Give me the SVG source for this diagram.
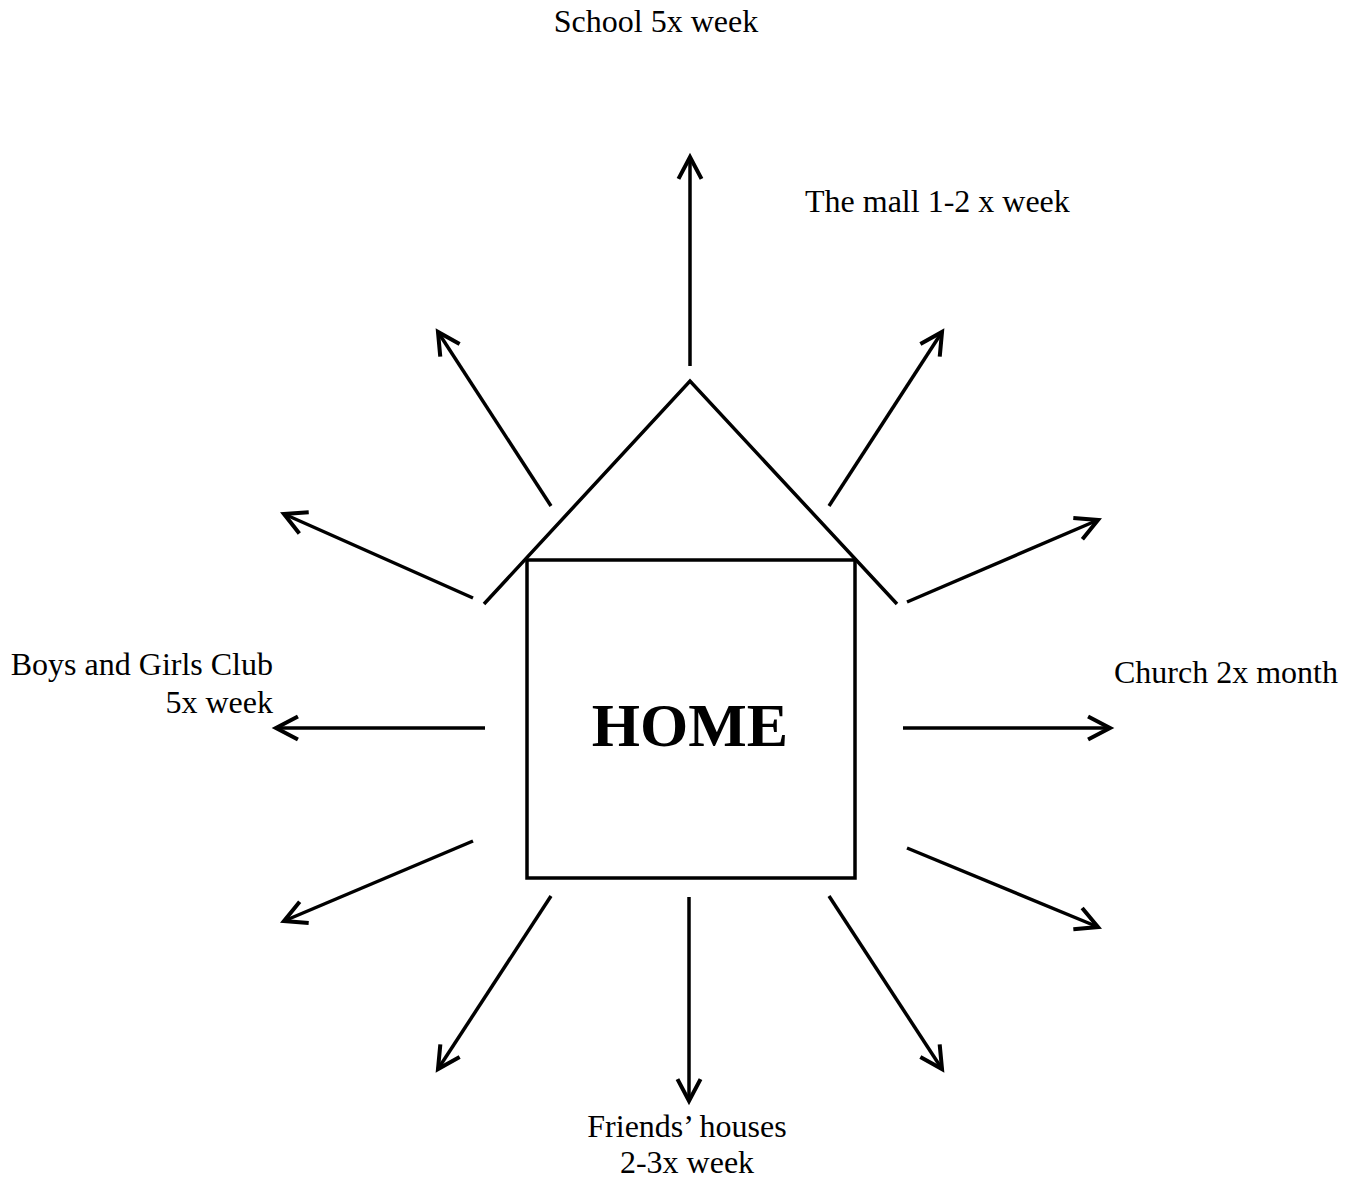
<svg xmlns="http://www.w3.org/2000/svg" width="1354" height="1181" viewBox="0 0 1354 1181">
<style>
.ln{stroke:#000;stroke-width:3.5;fill:none}
.t{font-family:"Liberation Serif","Times New Roman",serif;font-size:32px;fill:#000}
.h{font-family:"Liberation Serif","Times New Roman",serif;font-size:62px;font-weight:bold;fill:#000}
</style>
<defs>
<marker id="ah" markerUnits="userSpaceOnUse" markerWidth="30" markerHeight="30" viewBox="-22 -12 26 24" refX="0" refY="0" orient="auto">
<path d="M-19,-10 L0,0 L-19,10" fill="none" stroke="#000" stroke-width="3.5" stroke-linejoin="miter"/>
</marker>
</defs>
<rect width="1354" height="1181" fill="#fff"/>
<g id="home">
<polyline class="ln" points="484,604 690,381 897,604"/>
<rect class="ln" x="527" y="560" width="328" height="318"/>
<text class="h" x="690" y="746" text-anchor="middle">HOME</text>
</g>
<g id="connectors">
<line class="ln" x1="690" y1="366" x2="690" y2="157" marker-end="url(#ah)"/>
<line class="ln" x1="551" y1="506" x2="438" y2="332" marker-end="url(#ah)"/>
<line class="ln" x1="829" y1="506" x2="942" y2="332" marker-end="url(#ah)"/>
<line class="ln" x1="473" y1="598" x2="284" y2="514" marker-end="url(#ah)"/>
<line class="ln" x1="907" y1="602" x2="1098" y2="520" marker-end="url(#ah)"/>
<line class="ln" x1="485" y1="728" x2="276" y2="728" marker-end="url(#ah)"/>
<line class="ln" x1="903" y1="728" x2="1110" y2="728" marker-end="url(#ah)"/>
<line class="ln" x1="473" y1="841" x2="284" y2="921" marker-end="url(#ah)"/>
<line class="ln" x1="907" y1="848" x2="1098" y2="927" marker-end="url(#ah)"/>
<line class="ln" x1="551" y1="896" x2="438" y2="1069" marker-end="url(#ah)"/>
<line class="ln" x1="689" y1="897" x2="689" y2="1101" marker-end="url(#ah)"/>
<line class="ln" x1="829" y1="896" x2="942" y2="1069" marker-end="url(#ah)"/>
</g>
<g id="school"><text class="t" x="656" y="32" text-anchor="middle">School 5x week</text></g>
<g id="mall"><text class="t" x="805" y="212">The mall 1-2 x week</text></g>
<g id="church"><text class="t" x="1114" y="683">Church 2x month</text></g>
<g id="club"><text class="t" x="273" y="675" text-anchor="end">Boys and Girls Club</text><text class="t" x="273" y="713" text-anchor="end">5x week</text></g>
<g id="friends"><text class="t" x="687" y="1137" text-anchor="middle">Friends’ houses</text><text class="t" x="687" y="1173" text-anchor="middle">2-3x week</text></g>
</svg>
